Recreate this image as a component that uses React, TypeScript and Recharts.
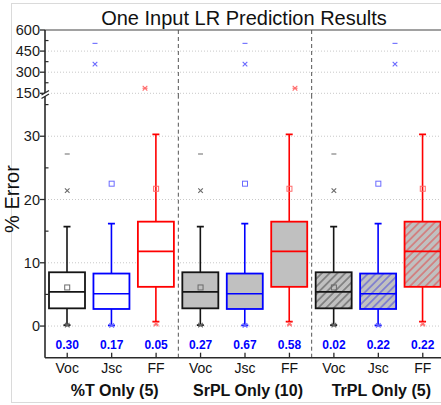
import React from 'react';
import { ComposedChart, Bar, Scatter, XAxis, YAxis, CartesianGrid, ReferenceLine } from 'recharts';

const FONT = '"Liberation Sans", Arial, Helvetica, sans-serif';

// ---- data ----
const groupNames = ['%T Only (5)', 'SrPL Only (10)', 'TrPL Only (5)'];
const variableNames = ['Voc', 'Jsc', 'FF'];
const rValues = [0.3, 0.17, 0.05, 0.27, 0.67, 0.58, 0.02, 0.22, 0.22];

// box statistics per variable (identical in each group)
const whiskerLow = [0.15, 0.1, 0.7];
const q1Values = [2.8, 2.7, 6.2];
const medianValues = [5.4, 5.1, 11.8];
const q3Values = [8.5, 8.3, 16.5];
const whiskerHigh = [15.7, 16.2, 30.3];
const meanValues = [6.1, 22.5, 21.7];
const p1Values = [0.15, 0.1, 0.3];
const p99Values = [21.4, 357, 186];
const minValues = [0.0, 0.0, 0.2];
const maxValues = [27.2, 505, 186];

const lowerTicks = [0, 5, 10, 15, 20, 25, 30, 35];
const lowerMajorTicks = [0, 10, 20, 30];
const upperTicks = [150, 225, 300, 375, 450, 525, 600];
const upperMajorTicks = [150, 300, 450, 600];
const separators = [2.5, 5.5];

// ---- styles ----
const seriesColors = ['#151515', '#0000ff', '#ff0000'];
const markerColors = ['#6a6a6a', '#6b6bff', '#ff6b6b'];
const hatchColors = ['#333333', '#3030e0', '#e83030'];
const GRAY = '#c0c0c0';
const AXIS = '#2a2a2a';

const rows = groupNames.flatMap((g, gi) =>
  variableNames.map((v, vi) => ({
    key: `${v}-${gi}`,
    idx: gi * 3 + vi,
    group: gi,
    variable: vi,
    label: v,
    r: rValues[gi * 3 + vi],
    lo: [whiskerLow[vi], q1Values[vi]],
    hi: [q3Values[vi], whiskerHigh[vi]],
    box: [q1Values[vi], q3Values[vi]],
    med: [q1Values[vi], medianValues[vi]],
    mean: meanValues[vi],
    p1: p1Values[vi],
    p99: p99Values[vi],
    min: minValues[vi],
    max: maxValues[vi],
  }))
);
const rowByKey: Record<string, any> = {};
rows.forEach((r) => (rowByKey[r.key] = r));

const span = (p: any) => {
  const top = Math.min(p.y, p.y + p.height);
  const bottom = Math.max(p.y, p.y + p.height);
  return { top, bottom };
};

const WhiskerHighShape = (p: any) => {
  const { top, bottom } = span(p);
  const cx = p.x + p.width / 2;
  const c = seriesColors[p.payload.variable];
  return (
    <g>
      <line x1={cx} x2={cx} y1={top} y2={bottom} stroke={c} strokeWidth={1.6} />
      <line x1={cx - 3.5} x2={cx + 3.5} y1={top} y2={top} stroke={c} strokeWidth={1.8} />
    </g>
  );
};

const WhiskerLowShape = (p: any) => {
  const { top, bottom } = span(p);
  const cx = p.x + p.width / 2;
  const c = seriesColors[p.payload.variable];
  return (
    <g>
      <line x1={cx} x2={cx} y1={top} y2={bottom} stroke={c} strokeWidth={1.6} />
      <line x1={cx - 3.5} x2={cx + 3.5} y1={bottom} y2={bottom} stroke={c} strokeWidth={1.8} />
    </g>
  );
};

const BoxShape = (p: any) => {
  const { top, bottom } = span(p);
  const row = p.payload;
  const c = seriesColors[row.variable];
  const pid = `hatch-${row.idx}`;
  let fill = '#ffffff';
  if (row.group === 1) fill = GRAY;
  if (row.group === 2) fill = `url(#${pid})`;
  return (
    <g>
      {row.group === 2 && (
        <defs>
          <pattern id={pid} patternUnits="userSpaceOnUse" width={5.5} height={5.5} patternTransform="rotate(45)">
            <rect x={0} y={0} width={5.5} height={5.5} fill={GRAY} />
            <line x1={2.75} x2={2.75} y1={0} y2={5.5} stroke={hatchColors[row.variable]} strokeWidth={0.8} />
          </pattern>
        </defs>
      )}
      <rect x={p.x} y={top} width={p.width} height={bottom - top} fill={fill} stroke={c} strokeWidth={1.8} />
    </g>
  );
};

const MedianShape = (p: any) => {
  const { top } = span(p);
  const c = seriesColors[p.payload.variable];
  return <line x1={p.x} x2={p.x + p.width} y1={top} y2={top} stroke={c} strokeWidth={1.6} />;
};

const SquareShape = (p: any) => {
  const c = markerColors[p.payload.variable];
  return <rect x={p.cx - 2.5} y={p.cy - 2.5} width={5} height={5} fill="none" stroke={c} strokeWidth={1} />;
};

const CrossShape = (p: any) => {
  const c = markerColors[p.payload.variable];
  const s = 2.3;
  return (
    <g>
      <line x1={p.cx - s} x2={p.cx + s} y1={p.cy - s} y2={p.cy + s} stroke={c} strokeWidth={1.1} />
      <line x1={p.cx - s} x2={p.cx + s} y1={p.cy + s} y2={p.cy - s} stroke={c} strokeWidth={1.1} />
    </g>
  );
};

const DashShape = (p: any) => {
  const c = markerColors[p.payload.variable];
  return <line x1={p.cx - 2.5} x2={p.cx + 2.5} y1={p.cy} y2={p.cy} stroke={c} strokeWidth={1.1} />;
};

const makeYTick = (majors: number[]) => (props: any) => {
  const { x, y, payload } = props;
  const v = payload.value;
  const isMajor = majors.includes(v);
  return (
    <g>
      {isMajor ? (
        <line x1={x - 5} x2={x} y1={y} y2={y} stroke={AXIS} strokeWidth={1.3} />
      ) : (
        <line x1={x} x2={x + 3.5} y1={y} y2={y} stroke={AXIS} strokeWidth={1.2} />
      )}
      {isMajor && (
        <text x={x - 5} y={y} dy="0.35em" textAnchor="end" fontFamily={FONT} fontSize={14.5} fill="#1a1a1a">
          {v}
        </text>
      )}
    </g>
  );
};

const XTick = (props: any) => {
  const { x, y, payload } = props;
  const row = rowByKey[payload.value];
  if (!row) return null;
  return (
    <g>
      <line x1={x} x2={x} y1={y} y2={y - 5} stroke={AXIS} strokeWidth={1.3} />
      <text x={x} y={y - 8.5} textAnchor="middle" fontFamily={FONT} fontSize={12} fontWeight="bold" fill="#0000ff">
        {row.r.toFixed(2)}
      </text>
      <text x={x} y={y + 15} textAnchor="middle" fontFamily={FONT} fontSize={14} fill="#111">
        {row.label}
      </text>
      {row.variable === 1 && (
        <text x={x + 3} y={y + 38} textAnchor="middle" fontFamily={FONT} fontSize={16} fontWeight="bold" fill="#111">
          {groupNames[row.group]}
        </text>
      )}
    </g>
  );
};

const markerSeries = (
  [
    ['mean', SquareShape],
    ['p99', CrossShape],
    ['p1', CrossShape],
    ['max', DashShape],
    ['min', DashShape],
  ] as const
).map(([k, shape]) => <Scatter key={k} dataKey={k} shape={shape as any} isAnimationActive={false} />);

const separatorLines = separators.map((s) => (
  <ReferenceLine key={`sep-${s}`} xAxisId="num" x={s} stroke="#555" strokeWidth={1} strokeDasharray="4 3" />
));

export default function App() {
  return (
    <div style={{ position: 'absolute', left: 0, top: 0, width: 441, height: 405, overflow: 'hidden', background: '#fff' }}>
      {/* lower section */}
      <div style={{ position: 'absolute', left: 0, top: 0 }}>
        <ComposedChart width={445} height={405} data={rows} margin={{ top: 97, right: 0, bottom: 0, left: 0 }} barGap={-36}>
          <CartesianGrid vertical={false} horizontalValues={lowerMajorTicks} stroke="#c8c8c8" strokeDasharray="1 2" />
          <XAxis
            dataKey="key"
            type="category"
            height={47.3}
            interval={0}
            tickLine={false}
            tickSize={0}
            tickMargin={0}
            axisLine={{ stroke: AXIS, strokeWidth: 1.6 }}
            tick={XTick}
          />
          <XAxis xAxisId="num" dataKey="idx" type="number" domain={[-0.5, 8.5]} allowDataOverflow hide />
          <YAxis
            type="number"
            domain={[-5, 36.2]}
            allowDataOverflow
            ticks={lowerTicks}
            interval={0}
            width={45}
            tickLine={false}
            tickSize={0}
            tickMargin={0}
            axisLine={{ stroke: AXIS, strokeWidth: 1.6 }}
            tick={makeYTick(lowerMajorTicks)}
          />
          {separatorLines}
          <Bar dataKey="hi" barSize={36} shape={WhiskerHighShape as any} isAnimationActive={false} />
          <Bar dataKey="lo" barSize={36} shape={WhiskerLowShape as any} isAnimationActive={false} />
          <Bar dataKey="box" barSize={36} shape={BoxShape as any} isAnimationActive={false} />
          <Bar dataKey="med" barSize={36} shape={MedianShape as any} isAnimationActive={false} />
          {markerSeries}
        </ComposedChart>
      </div>
      {/* upper (broken) section */}
      <div style={{ position: 'absolute', left: 0, top: 0 }}>
        <ComposedChart width={445} height={105} data={rows} margin={{ top: 30, right: 0, bottom: 8, left: 0 }} barGap={-36}>
          <CartesianGrid vertical={false} horizontalValues={[150, 300, 450]} stroke="#c8c8c8" strokeDasharray="1 2" />
          <XAxis dataKey="key" type="category" hide interval={0} />
          <XAxis xAxisId="num" dataKey="idx" type="number" domain={[-0.5, 8.5]} allowDataOverflow hide />
          <YAxis
            type="number"
            domain={[123.7, 600]}
            allowDataOverflow
            ticks={upperTicks}
            interval={0}
            width={45}
            tickLine={false}
            tickSize={0}
            tickMargin={0}
            axisLine={{ stroke: AXIS, strokeWidth: 1.6 }}
            tick={makeYTick(upperMajorTicks)}
          />
          <ReferenceLine y={600} stroke="#444" strokeWidth={1.2} />
          {separatorLines}
          {markerSeries}
        </ComposedChart>
      </div>
      {/* decorations: title, axis title, break mark, frame */}
      <svg style={{ position: 'absolute', left: 0, top: 0, pointerEvents: 'none' }} width={441} height={405}>
        <line x1={11} x2={441} y1={3.5} y2={3.5} stroke="#dadada" strokeWidth={1} />
        <line x1={11.5} x2={11.5} y1={3} y2={402} stroke="#dadada" strokeWidth={1} />
        <line x1={11} x2={441} y1={402.5} y2={402.5} stroke="#dadada" strokeWidth={1} />
        <text x={244} y={24.5} textAnchor="middle" fontFamily={FONT} fontSize={20} fill="#111">
          One Input LR Prediction Results
        </text>
        <text transform="translate(18.5,199) rotate(-90)" textAnchor="middle" fontFamily={FONT} fontSize={20} fill="#111">
          % Error
        </text>
        <polygon points="41.5,95 49,90.5 49,94 41.5,98.5" fill="#fff" />
        <line x1={41.5} y1={95} x2={49} y2={90.5} stroke={AXIS} strokeWidth={1.3} />
        <line x1={41.5} y1={98.5} x2={49} y2={94} stroke={AXIS} strokeWidth={1.3} />
      </svg>
    </div>
  );
}
